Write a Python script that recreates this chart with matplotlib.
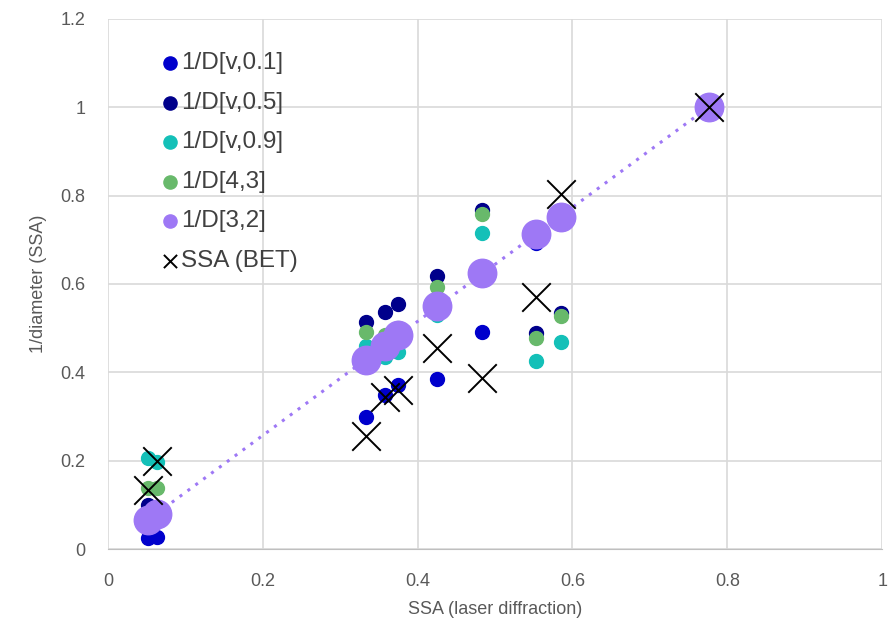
import numpy as np
import matplotlib.pyplot as plt

plt.rcParams['font.family'] = ['Liberation Sans', 'DejaVu Sans']

# SSA (laser diffraction) for each sample
ssa_ld = [0.052, 0.063, 0.333, 0.358, 0.375, 0.425, 0.483, 0.553, 0.585, 0.776]

d_v01 = [0.025, 0.027, 0.299, 0.348, 0.371, 0.385, 0.491, 0.692, 0.745, 0.99]
d_v05 = [0.100, 0.095, 0.514, 0.536, 0.554, 0.617, 0.767, 0.489, 0.534, 1.0]
d_v09 = [0.205, 0.197, 0.459, 0.434, 0.446, 0.530, 0.715, 0.425, 0.468, 1.0]
d_43 = [0.138, 0.138, 0.491, 0.484, 0.500, 0.593, 0.758, 0.477, 0.527, 1.0]
d_32 = [0.066, 0.079, 0.428, 0.460, 0.485, 0.550, 0.624, 0.713, 0.751, 1.0]
ssa_bet = [0.134, 0.200, 0.256, 0.344, 0.360, 0.455, 0.387, 0.570, 0.803, 1.0]

fig = plt.figure(figsize=(8.92, 6.26), dpi=100)
ax = fig.add_axes([0.121, 0.123, 0.868, 0.847])

ax.grid(True, color='#d9d9d9', linewidth=1.2, zorder=0)
ax.set_axisbelow(True)
for s in ['top', 'right', 'left']:
    ax.spines[s].set_visible(False)
ax.spines['bottom'].set_color('#bfbfbf')

small = 100
ax.scatter(ssa_ld, d_v01, s=small, color='#0000cc', label='1/D[v,0.1]', zorder=3)
ax.scatter(ssa_ld, d_v05, s=small, color='#00008b', label='1/D[v,0.5]', zorder=3)
ax.scatter(ssa_ld, d_v09, s=small, color='#14c0b8', label='1/D[v,0.9]', zorder=3)
ax.scatter(ssa_ld, d_43, s=small, color='#68b96b', label='1/D[4,3]', zorder=3)
ax.scatter(ssa_ld, d_32, s=420, color='#9e78f5', label='1/D[3,2]', zorder=3)

# linear trendline through 1/D[3,2]
k, b = np.polyfit(ssa_ld, d_32, 1)
xs = np.array([min(ssa_ld), max(ssa_ld)])
ax.plot(xs, k * xs + b, linestyle=(0, (1, 2.2)), color='#9e78f5', linewidth=2.2,
        zorder=3.5)

ax.scatter(ssa_ld, ssa_bet, s=420, marker='x', color='black',
           linewidths=1.4, label='SSA (BET)', zorder=4)

ax.set_xlim(0, 1)
ax.set_ylim(0, 1.2)
ax.set_xticks([0, 0.2, 0.4, 0.6, 0.8, 1])
ax.set_xticklabels(['0', '0.2', '0.4', '0.6', '0.8', '1'])
ax.set_yticks([0, 0.2, 0.4, 0.6, 0.8, 1, 1.2])
ax.set_yticklabels(['0', '0.2', '0.4', '0.6', '0.8', '1', '1.2'])
ax.tick_params(length=0, labelsize=13, colors='#595959')
ax.tick_params(axis='x', pad=17)
ax.tick_params(axis='y', pad=16)

ax.set_xlabel('SSA (laser diffraction)', fontsize=13, color='#595959', labelpad=8)
ax.set_ylabel('1/diameter (SSA)', fontsize=13, color='#595959', labelpad=10)

leg = ax.legend(loc='upper left', bbox_to_anchor=(0.036, 0.955), frameon=False,
                fontsize=17.5, handletextpad=-0.55, labelspacing=0.72,
                markerscale=1.0, borderaxespad=0)
for h in leg.legend_handles:
    h.set_sizes([90])
for t in leg.get_texts():
    t.set_color('#404040')

fig.savefig('out.png', dpi=100)
